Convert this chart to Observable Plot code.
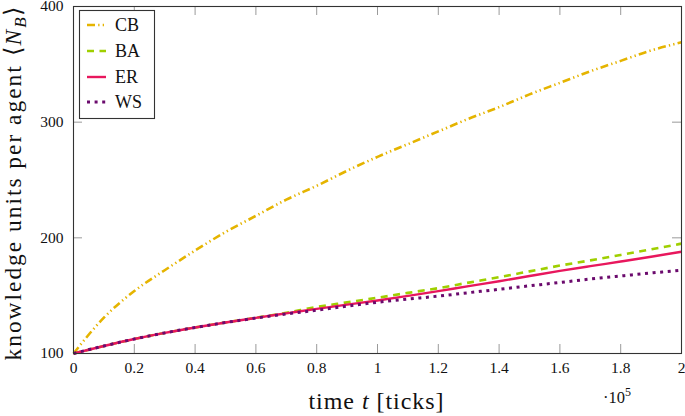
<!DOCTYPE html>
<html>
<head>
<meta charset="utf-8">
<script src="https://cdn.jsdelivr.net/npm/d3@7"></script>
<script src="https://cdn.jsdelivr.net/npm/@observablehq/plot@0.6"></script>
<style>
  html, body { margin: 0; padding: 0; background: #fff; }
  #chart { position: relative; width: 685px; height: 416px; }
</style>
</head>
<body>
<div id="chart"></div>
<script>
// time in ticks
const time = [0, 10000, 20000, 30000, 40000, 50000, 60000, 70000, 80000, 90000, 100000,
  110000, 120000, 130000, 140000, 150000, 160000, 170000, 180000, 190000, 200000];
const seriesNames = ["CB", "BA", "ER", "WS"];
const CB = [100, 131, 154, 172, 189, 205, 219, 233, 245, 258, 270, 281, 292, 303, 313, 324, 334, 344, 353, 362, 369];
const BA = [100, 106.5, 112.5, 117.8, 122.5, 126.8, 130.9, 135.2, 140.2, 144.2, 148.2, 152.4, 156.5, 161.3, 166, 171, 176, 180.5, 185.2, 190, 195];
const ER = [100, 106.5, 112.5, 117.8, 122.5, 126.8, 130.8, 134.7, 138.6, 142.3, 145.8, 149.8, 153.9, 158.3, 162.5, 167, 171.4, 175.5, 179.5, 183.6, 188];
const WS = [100, 106.5, 112.5, 117.8, 122.5, 126.8, 130.6, 134.2, 137.4, 141, 144.3, 147, 149.6, 152.6, 155.5, 158.5, 161.4, 164.4, 167, 169.6, 172];
const xTicks = [0, 20000, 40000, 60000, 80000, 100000, 120000, 140000, 160000, 180000, 200000];
const yTicks = [100, 200, 300, 400];

const colors = { CB: "#e5b400", BA: "#9fcf00", ER: "#e8175d", WS: "#6b0a6d" };
const dashes = { CB: "8 3.2 1.3 3.2 1.3 3.2", BA: "7 5.5", ER: null, WS: "3 4.6" };
const widths = { CB: 2.6, BA: 2.6, ER: 2.4, WS: 3 };

const valuesBy = { CB, BA, ER, WS };
const rows = seriesNames.flatMap(s => time.map((t, i) => ({ series: s, t, v: valuesBy[s][i] })));

const W = 685, H = 416, mL = 73, mR = 4, mT = 6, mB = 63;
const fw = W - mL - mR, fh = H - mT - mB;
const serif = "Liberation Serif";

const lineMarks = seriesNames.map(s => Plot.line(rows.filter(r => r.series === s), {
  x: "t", y: "v", stroke: colors[s], strokeWidth: widths[s],
  strokeDasharray: dashes[s] || undefined, strokeLinecap: "butt", curve: "monotone-x"
}));

const plot = Plot.plot({
  width: W, height: H,
  marginLeft: mL, marginRight: mR, marginTop: mT, marginBottom: mB,
  style: { fontFamily: serif, fontSize: "15.5px", background: "#fff", color: "#111" },
  x: { domain: [0, 200000] },
  y: { domain: [100, 400] },
  marks: [
    Plot.ruleX(xTicks, { stroke: "#9a9a9a", strokeWidth: 1, insetTop: fh - 9 }),
    Plot.ruleX(xTicks, { stroke: "#9a9a9a", strokeWidth: 1, insetBottom: fh - 9 }),
    Plot.ruleY(yTicks, { stroke: "#9a9a9a", strokeWidth: 1, insetRight: fw - 9 }),
    Plot.ruleY(yTicks, { stroke: "#9a9a9a", strokeWidth: 1, insetLeft: fw - 9 }),
    ...lineMarks,
    Plot.frame({ stroke: "#333", strokeWidth: 1.1 }),
    Plot.axisX(xTicks, { tickSize: 0, tickPadding: 8, label: null, fontSize: 15.5,
      tickFormat: d => String(+(d / 1e5).toFixed(1)) }),
    Plot.axisY(yTicks, { tickSize: 0, tickPadding: 10, label: null, fontSize: 15.5 })
  ]
});

document.getElementById("chart").appendChild(plot);
const svg = d3.select(plot);

// x axis title
const xt = svg.append("text").attr("x", 376).attr("y", 409).attr("text-anchor", "middle")
  .attr("font-family", serif).attr("font-size", 24).attr("fill", "#111")
  .attr("textLength", 135).attr("lengthAdjust", "spacing");
xt.append("tspan").text("time ");
xt.append("tspan").attr("font-style", "italic").text("t");
xt.append("tspan").text(" [ticks]");

// x scale multiplier
const mt = svg.append("text").attr("x", 603).attr("y", 403).attr("text-anchor", "start")
  .attr("font-family", serif).attr("font-size", 16.5).attr("fill", "#111");
mt.append("tspan").text("·10");
mt.append("tspan").attr("font-size", 12).attr("dy", -7).text("5");

// y axis title
const yt = svg.append("text").attr("transform", "translate(21,183.5) rotate(-90)")
  .attr("text-anchor", "middle").attr("font-family", serif).attr("font-size", 23.5)
  .attr("fill", "#111").attr("textLength", 354).attr("lengthAdjust", "spacing");
yt.append("tspan").text("knowledge units per agent ⟨");
yt.append("tspan").attr("font-style", "italic").text("N");
yt.append("tspan").attr("font-style", "italic").attr("font-size", 17).attr("dy", 5).text("B");
yt.append("tspan").attr("dy", -5).text("⟩");

// legend
const lg = svg.append("g");
lg.append("rect").attr("x", 79.5).attr("y", 10.5).attr("width", 75).attr("height", 108)
  .attr("fill", "#fff").attr("stroke", "#333").attr("stroke-width", 1.1);
const legendY = [25, 51, 77, 102];
seriesNames.forEach((s, i) => {
  const y = legendY[i];
  lg.append("line").attr("x1", 87).attr("x2", 106).attr("y1", y).attr("y2", y)
    .attr("stroke", colors[s]).attr("stroke-width", widths[s])
    .attr("stroke-dasharray", dashes[s]);
  lg.append("text").attr("x", 115).attr("y", y).attr("dy", "0.35em").attr("text-anchor", "start")
    .attr("font-family", serif).attr("font-size", 18).attr("fill", "#111").text(s);
});
</script>
</body>
</html>
